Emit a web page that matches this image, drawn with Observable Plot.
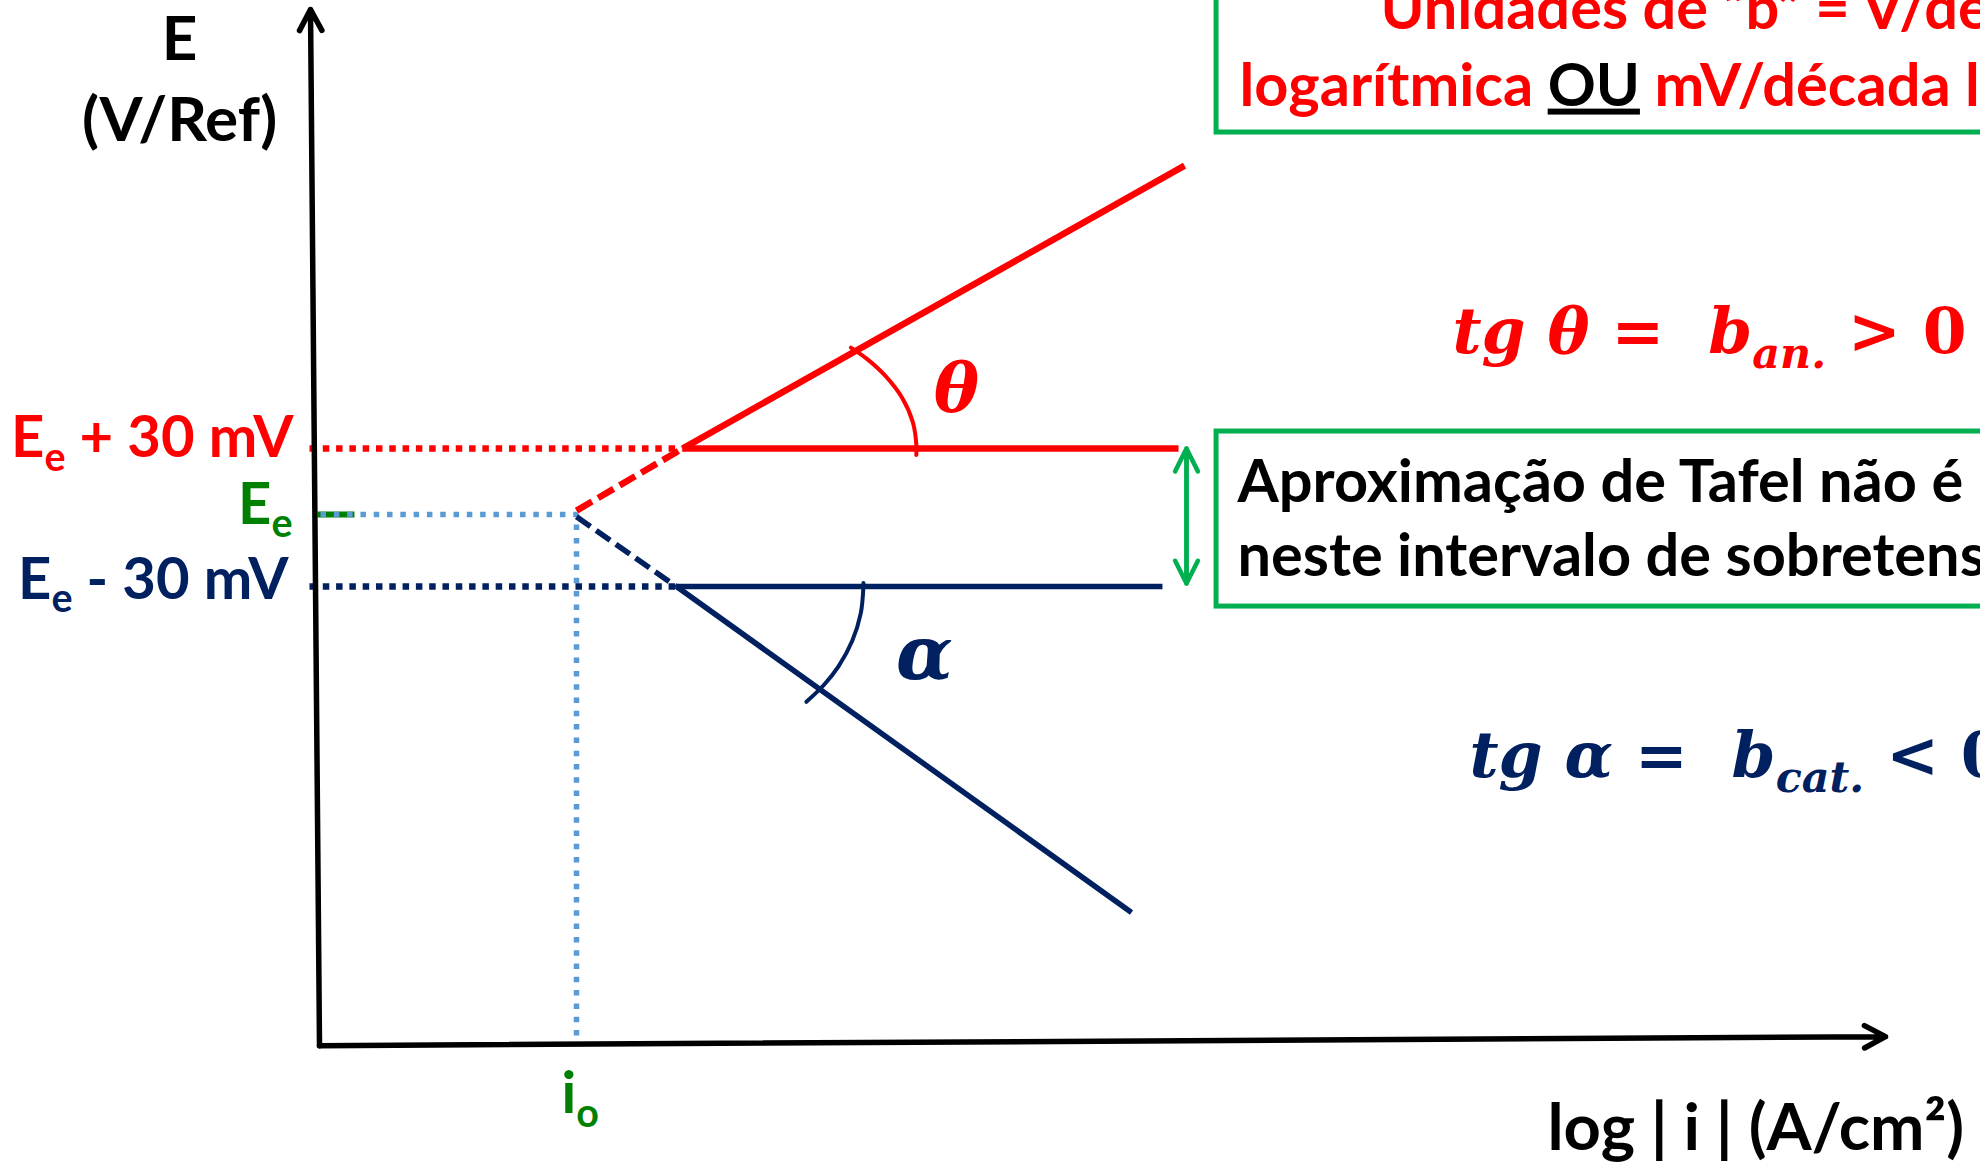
<!DOCTYPE html>
<html>
<head>
<meta charset="utf-8">
<script src="https://cdn.jsdelivr.net/npm/d3@7"></script>
<script src="https://cdn.jsdelivr.net/npm/@observablehq/plot@0.6"></script>
<style>
  html, body { margin: 0; padding: 0; background: #ffffff; }
  #chart svg { display: block; }
</style>
</head>
<body>
<div id="chart"></div>
<script>
// ---------- DATA (x = log|i| − log i₀ in decades, y = E − Eₑ in mV) ----------
const xDomain = [-4.4825, 10.926];
const yDomain = [-281.7, 223.5];

const eAxis = [{x1: -2.0, y1: -230.9, x2: -2.07, y2: 219.6}];
const iAxis = [{x1: -2.0, y1: -230.9, x2: 10.187, y2: -227.0}];

const levelPlus  = [{x: -2.078, y: 28.7}, {x: 0.825, y: 28.7}];
const levelMinus = [{x: -2.078, y: -31.3}, {x: 0.778, y: -31.3}];
const levelEq    = [{x: -1.992, y: 0}, {x: 0, y: 0}, {x: 0, y: -230.0}];
const eqTick     = [{x: -2.016, y: 0}, {x: -1.728, y: 0}];

const anodicExtrap = [{x: 0, y: 1.7}, {x: 0.825, y: 28.7}];
const anodicTafel  = [{x: 0.825, y: 28.7}, {x: 4.732, y: 151.7}];
const anodicRef    = [{x: 0.825, y: 28.7}, {x: 4.685, y: 28.7}];

const cathodicExtrap = [{x: 0, y: -0.9}, {x: 0.778, y: -31.3}];
const cathodicTafel  = [{x: 0.778, y: -31.3}, {x: 4.319, y: -173.0}];
const cathodicRef    = [{x: 0.778, y: -31.3}, {x: 4.560, y: -31.3}];

const thetaArc = [
  {x: 2.644, y: 25.9}, {x: 2.646, y: 29.1}, {x: 2.618, y: 40.0}, {x: 2.536, y: 50.6},
  {x: 2.402, y: 60.4}, {x: 2.260, y: 67.7}, {x: 2.135, y: 72.6}
];
const alphaArc = [
  {x: 2.233, y: -29.7}, {x: 2.233, y: -30.9}, {x: 2.212, y: -43.0}, {x: 2.146, y: -54.9},
  {x: 2.039, y: -66.0}, {x: 1.925, y: -74.1}, {x: 1.789, y: -81.4}
];

const gapArrow = [
  {x1: 4.747, y1: -30.0, x2: 4.747, y2: 28.7},
  {x1: 4.747, y1: 28.7, x2: 4.747, y2: -30.0}
];
const noteBoxes = [
  {x1: 4.981, x2: 11.2, y1: 166.1, y2: 235.0},
  {x1: 4.981, x2: 11.2, y1: 36.1, y2: -40.0}
];

// ---------- TEXT ----------
const axisTitleE = [{x: -3.089, y: 197.8, text: "E"}, {x: -3.089, y: 162.2, text: "(V/Ref)"}];
const axisTitleI = [{x: 7.556, y: -276.1, text: "log | i | (A/cm²)"}];
const labelPlus  = [{x: -2.202, y: 25.2, text: "E_{e} + 30 mV"}];
const labelEq    = [{x: -2.210, y: -3.9, text: "E_{e}"}];
const labelMinus = [{x: -2.241, y: -36.5, text: "E_{e} - 30 mV"}];
const labelIo    = [{x: -0.117, y: -260.0, text: "i_{o}"}];
const unitsNote  = [
  {x: 6.257, y: 211.3, text: "Unidades de “b” = V/década"},
  {x: 5.160, y: 177.8, text: "logarítmica [OU] mV/década logarítmica"}
];
const tafelNote  = [
  {x: 5.144, y: 5.65, text: "Aproximação de Tafel não é"},
  {x: 5.144, y: -26.5, text: "neste intervalo de sobretensão"}
];
const eqAnodic   = [{x: 6.817, y: 70.4, text: "tg θ ~=~  b_{an.} ~> 0~"}];
const eqCathodic = [{x: 6.949, y: -113.9, text: "tg α ~=~  b_{cat.} ~< 0~"}];
const thetaLabel = [{x: 2.957, y: 45.2, text: "θ"}];
const alphaLabel = [{x: 2.708, y: -71.3, text: "α"}];

// ---------- STYLE ----------
const RED = "#FF0000", NAVY = "#002060", BLUE = "#5B9BD5", GREEN = "#008000", BOX = "#00B050";
const SANS = "Lato, Carlito, 'Open Sans', sans-serif";
const SERIF = "'DejaVu Serif', 'Liberation Serif', serif";

const txt = (data, o) => Plot.text(data, {x: "x", y: "y", text: "text", lineAnchor: "bottom",
  fontFamily: SANS, fontWeight: 700, fontSize: 59, ...o});
const dotted = {strokeWidth: 6.5, strokeDasharray: "6.5,6.8", strokeLinecap: "butt"};

const chart = Plot.plot({
  width: 1980,
  height: 1162,
  margin: 0,
  x: {domain: xDomain, axis: null},
  y: {domain: yDomain, axis: null},
  style: {background: "#ffffff", fontFamily: SANS},
  marks: [
    Plot.rect(noteBoxes, {x1: "x1", x2: "x2", y1: "y1", y2: "y2", fill: "none", stroke: BOX, strokeWidth: 5}),
    Plot.line(eqTick, {x: "x", y: "y", stroke: GREEN, strokeWidth: 6, strokeLinecap: "butt"}),
    Plot.line(levelEq, {x: "x", y: "y", stroke: BLUE, strokeWidth: 5.5, strokeDasharray: "5.5,7.8", strokeLinecap: "butt", strokeLinejoin: "miter"}),
    Plot.line(levelPlus, {x: "x", y: "y", stroke: RED, ...dotted}),
    Plot.line(levelMinus, {x: "x", y: "y", stroke: NAVY, ...dotted}),
    Plot.line(anodicExtrap, {x: "x", y: "y", stroke: RED, strokeWidth: 6.5, strokeDasharray: "18,7", strokeLinecap: "butt"}),
    Plot.line(cathodicExtrap, {x: "x", y: "y", stroke: NAVY, strokeWidth: 5.5, strokeDasharray: "17,7", strokeLinecap: "butt"}),
    Plot.line(anodicTafel, {x: "x", y: "y", stroke: RED, strokeWidth: 6.5, strokeLinecap: "butt"}),
    Plot.line(anodicRef, {x: "x", y: "y", stroke: RED, strokeWidth: 6.5, strokeLinecap: "butt"}),
    Plot.line(cathodicTafel, {x: "x", y: "y", stroke: NAVY, strokeWidth: 5.5, strokeLinecap: "butt"}),
    Plot.line(cathodicRef, {x: "x", y: "y", stroke: NAVY, strokeWidth: 5.5, strokeLinecap: "butt"}),
    Plot.line(thetaArc, {x: "x", y: "y", curve: "catmull-rom", stroke: RED, strokeWidth: 4}),
    Plot.line(alphaArc, {x: "x", y: "y", curve: "catmull-rom", stroke: NAVY, strokeWidth: 4}),
    Plot.arrow(gapArrow, {x1: "x1", y1: "y1", x2: "x2", y2: "y2", stroke: BOX, strokeWidth: 4.5, headLength: 8.5, headAngle: 53}),
    Plot.arrow(eAxis, {x1: "x1", y1: "y1", x2: "x2", y2: "y2", stroke: "black", strokeWidth: 5.5, headLength: 6.5, headAngle: 56}),
    Plot.arrow(iAxis, {x1: "x1", y1: "y1", x2: "x2", y2: "y2", stroke: "black", strokeWidth: 5.5, headLength: 6.5, headAngle: 56}),
    txt(axisTitleE, {fill: "black", textAnchor: "middle", fontSize: 62}),
    txt(axisTitleI, {fill: "black", textAnchor: "start", fontSize: 65}),
    txt(labelPlus, {fill: RED, textAnchor: "end", fontSize: 58}),
    txt(labelEq, {fill: GREEN, textAnchor: "end", fontSize: 58}),
    txt(labelMinus, {fill: NAVY, textAnchor: "end", fontSize: 58}),
    txt(labelIo, {fill: GREEN, textAnchor: "start", fontSize: 58}),
    txt(unitsNote, {fill: RED, textAnchor: "start", fontSize: 59.5}),
    txt(tafelNote, {fill: "black", textAnchor: "start", fontSize: 59.5}),
    txt(eqAnodic, {fill: RED, textAnchor: "start", fontFamily: SERIF, fontStyle: "italic", fontSize: 63, ariaLabel: "math"}),
    txt(eqCathodic, {fill: NAVY, textAnchor: "start", fontFamily: SERIF, fontStyle: "italic", fontSize: 63, ariaLabel: "math"}),
    txt(thetaLabel, {fill: RED, textAnchor: "middle", fontFamily: SERIF, fontStyle: "italic", fontSize: 68, ariaLabel: "math"}),
    txt(alphaLabel, {fill: NAVY, textAnchor: "middle", fontFamily: SERIF, fontStyle: "italic", fontSize: 74, ariaLabel: "math"})
  ]
});

document.getElementById("chart").appendChild(chart);

// Rich text: _{...} → subscript, [...] → black underlined, ~...~ → upright
const NS = "http://www.w3.org/2000/svg";
d3.select(chart).selectAll("text").each(function () {
  const el = this;
  const s = el.textContent;
  if (!/_\{|\[|~/.test(s)) return;
  const isMath = el.parentNode && el.parentNode.getAttribute("aria-label") === "math";
  const fs = parseFloat(getComputedStyle(el).fontSize) || 59;
  const subScale = isMath ? 0.86 : 0.68;
  const subShift = isMath ? 0.22 : 0.24;
  const parts = s.split(/(_\{[^}]*\}|\[[^\]]*\]|~[^~]*~)/).filter(p => p.length);
  el.textContent = "";
  let shift = 0;
  for (const p of parts) {
    const ts = document.createElementNS(NS, "tspan");
    if (p.startsWith("_{")) {
      ts.textContent = p.slice(2, -1);
      ts.setAttribute("font-size", fs * subScale);
      const d = fs * subShift;
      ts.setAttribute("dy", d - shift);
      shift = d;
    } else {
      if (p.startsWith("[")) {
        ts.textContent = p.slice(1, -1);
        ts.setAttribute("fill", "black");
        ts.setAttribute("style", "text-decoration: underline;");
      } else if (p.startsWith("~")) {
        ts.textContent = p.slice(1, -1);
        ts.setAttribute("font-style", "normal");
      } else {
        ts.textContent = p;
      }
      if (shift) { ts.setAttribute("dy", -shift); shift = 0; }
    }
    el.appendChild(ts);
  }
});
d3.select(chart).selectAll('g[aria-label="math"] text')
  .style("filter", "drop-shadow(2px 3px 2px rgba(0,0,0,0.35))");
</script>
</body>
</html>
